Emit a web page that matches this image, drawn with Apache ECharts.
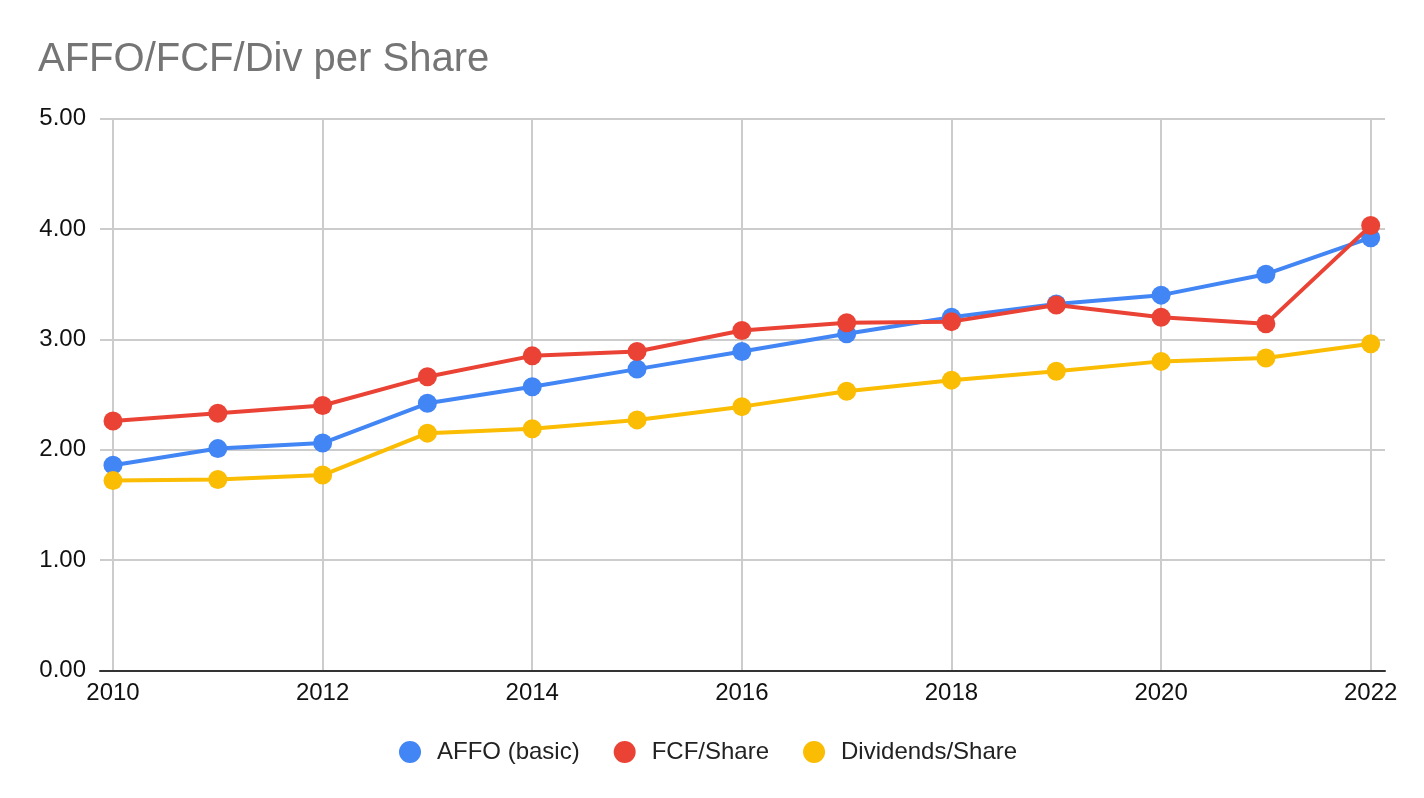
<!DOCTYPE html>
<html>
<head>
<meta charset="utf-8">
<script src="https://cdn.jsdelivr.net/npm/echarts@6/dist/echarts.min.js"></script>
<style>
  html, body { margin: 0; padding: 0; background: #fff; }
  #chart { width: 1424px; height: 798px; }
</style>
</head>
<body>
<div id="chart"></div>
<script>
// values
const years = [2010, 2011, 2012, 2013, 2014, 2015, 2016, 2017, 2018, 2019, 2020, 2021, 2022];
const affo = [1.86, 2.01, 2.06, 2.42, 2.57, 2.73, 2.89, 3.05, 3.20, 3.32, 3.40, 3.59, 3.92];
const fcf = [2.26, 2.33, 2.40, 2.66, 2.85, 2.89, 3.08, 3.15, 3.16, 3.31, 3.20, 3.14, 4.03];
const divs = [1.72, 1.73, 1.77, 2.15, 2.19, 2.27, 2.39, 2.53, 2.63, 2.71, 2.80, 2.83, 2.96];
const seriesNames = ['AFFO (basic)', 'FCF/Share', 'Dividends/Share'];
const colors = ['#4285F4', '#EA4335', '#FBBC04'];

const font = "'Liberation Sans', Arial, sans-serif";

const pairs = (vals) => years.map((y, i) => [y, vals[i]]);

const chart = echarts.init(document.getElementById('chart'));

const lineSeries = [affo, fcf, divs].map((vals, i) => ({
  name: seriesNames[i],
  type: 'line',
  xAxisIndex: 1,
  yAxisIndex: 1,
  data: pairs(vals),
  symbol: 'circle',
  symbolSize: 19,
  showSymbol: true,
  lineStyle: { width: 4, color: colors[i] },
  itemStyle: { color: colors[i] },
  z: 3 + i
}));

chart.setOption({
  animation: false,
  backgroundColor: '#fff',
  color: colors,
  title: {
    text: 'AFFO/FCF/Div per Share',
    left: 33,
    top: 35,
    textStyle: { fontFamily: font, fontSize: 40, fontWeight: 'normal', color: '#757575' }
  },
  legend: {
    left: 394,
    top: 735,
    icon: 'circle',
    itemWidth: 22,
    itemHeight: 22,
    itemGap: 34,
    data: seriesNames,
    textStyle: { fontFamily: font, fontSize: 24, color: '#222', padding: [0, 0, 0, 11] }
  },
  grid: [
    // wide grid: horizontal gridlines and baseline
    { left: 100, right: 39, top: 118.5, bottom: 127.5 },
    // data grid: 2010 .. 2022
    { left: 113, right: 53.3, top: 118.5, bottom: 127.5 }
  ],
  xAxis: [
    {
      gridIndex: 0,
      type: 'value',
      min: 0,
      max: 1,
      axisLine: { show: true, onZero: false, lineStyle: { color: '#333', width: 2 } },
      axisTick: { show: false },
      axisLabel: { show: false },
      splitLine: { show: false }
    },
    {
      gridIndex: 1,
      type: 'value',
      min: 2010,
      max: 2022,
      interval: 2,
      axisLine: { show: false },
      axisTick: { show: false },
      axisLabel: {
        margin: 11,
        fontFamily: font,
        fontSize: 24,
        color: '#111',
        formatter: (v) => String(v)
      },
      splitLine: { show: true, lineStyle: { color: '#cccccc', width: 2 } }
    }
  ],
  yAxis: [
    {
      gridIndex: 0,
      type: 'value',
      min: 0,
      max: 5,
      interval: 1,
      axisLine: { show: false },
      axisTick: { show: false },
      axisLabel: {
        margin: 14,
        fontFamily: font,
        fontSize: 24,
        color: '#111',
        formatter: (v) => v.toFixed(2)
      },
      splitLine: { show: true, lineStyle: { color: '#cccccc', width: 2 } }
    },
    {
      gridIndex: 1,
      type: 'value',
      min: 0,
      max: 5,
      interval: 1,
      show: false,
      splitLine: { show: false }
    }
  ],
  series: lineSeries
});
</script>
</body>
</html>
